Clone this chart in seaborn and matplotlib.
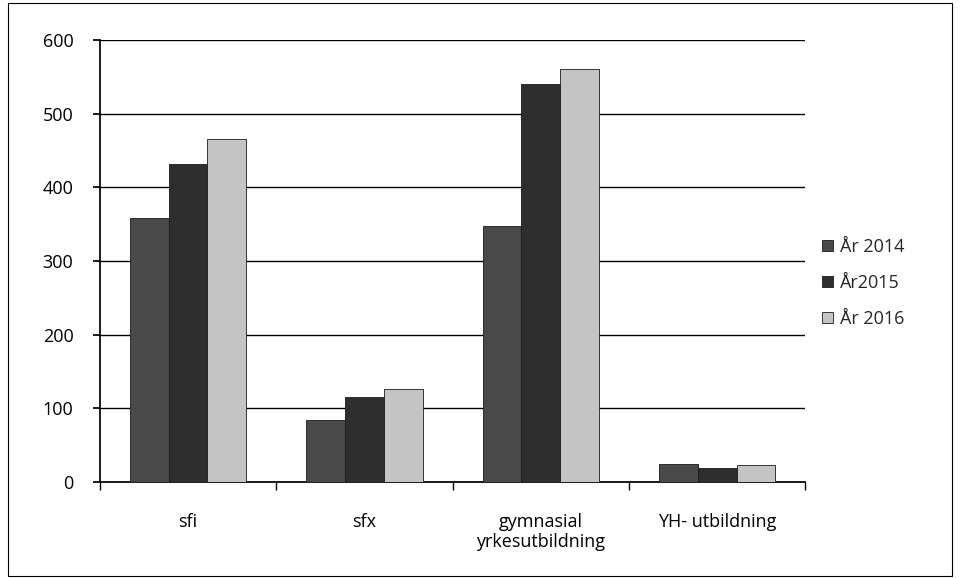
import pandas as pd
import numpy as np
import matplotlib.pyplot as plt
import seaborn as sns
from matplotlib.ticker import FixedLocator
from matplotlib.patches import Rectangle

categories = ["sfi", "sfx", "gymnasial\nyrkesutbildning", "YH- utbildning"]
series = ["År 2014", "År2015", "År 2016"]
v2014 = [358, 84, 347, 24]
v2015 = [432, 116, 540, 19]
v2016 = [466, 126, 561, 23]
yticks = [0, 100, 200, 300, 400, 500, 600]

df = pd.DataFrame({
    "kategori": categories * 3,
    "serie": [s for s in series for _ in categories],
    "antal": v2014 + v2015 + v2016,
})

sns.set_theme(style="white")
plt.rcParams["font.family"] = ["Open Sans", "DejaVu Sans"]

fig = plt.figure(figsize=(9.6, 5.78), dpi=100)
ax = fig.add_axes([0.104, 0.166, 0.735, 0.765])
pal = ["#4a4a4a", "#2e2e2e", "#c4c4c4"]
sns.barplot(data=df, x="kategori", y="antal", hue="serie", palette=pal,
            width=0.66, gap=0, saturation=1, ax=ax, zorder=3)

for bar in ax.patches:
    bar.set_edgecolor("#1a1a1a")
    bar.set_linewidth(0.6)

ax.set_ylim(0, 600)
ax.set_yticks(yticks)
ax.set_xlim(-0.5, 3.5)
ax.yaxis.grid(True, color="black", linewidth=1.0, zorder=0)
ax.set_xlabel("")
ax.set_ylabel("")
for s in ["top", "right"]:
    ax.spines[s].set_visible(False)
ax.spines["left"].set_color("black")
ax.spines["bottom"].set_color("black")
ax.tick_params(axis="y", which="major", length=5, color="black", direction="out",
               left=True, labelsize=13, labelcolor="black", pad=14)
ax.tick_params(axis="x", which="major", length=0, labelsize=13, labelcolor="black", pad=22)
ax.xaxis.set_minor_locator(FixedLocator([-0.5, 0.5, 1.5, 2.5, 3.5]))
ax.tick_params(axis="x", which="minor", length=6, color="black", direction="out", bottom=True)

leg = ax.legend(loc="center left", bbox_to_anchor=(1.0, 0.45), frameon=False,
                fontsize=13, handlelength=0.6, handleheight=0.6, handletextpad=0.4,
                labelspacing=1.0)

fig.patches.append(Rectangle((0.008, 0.004), 0.984, 0.99, transform=fig.transFigure,
                             fill=False, edgecolor="black", linewidth=0.8))

fig.savefig("out.png", dpi=100)
